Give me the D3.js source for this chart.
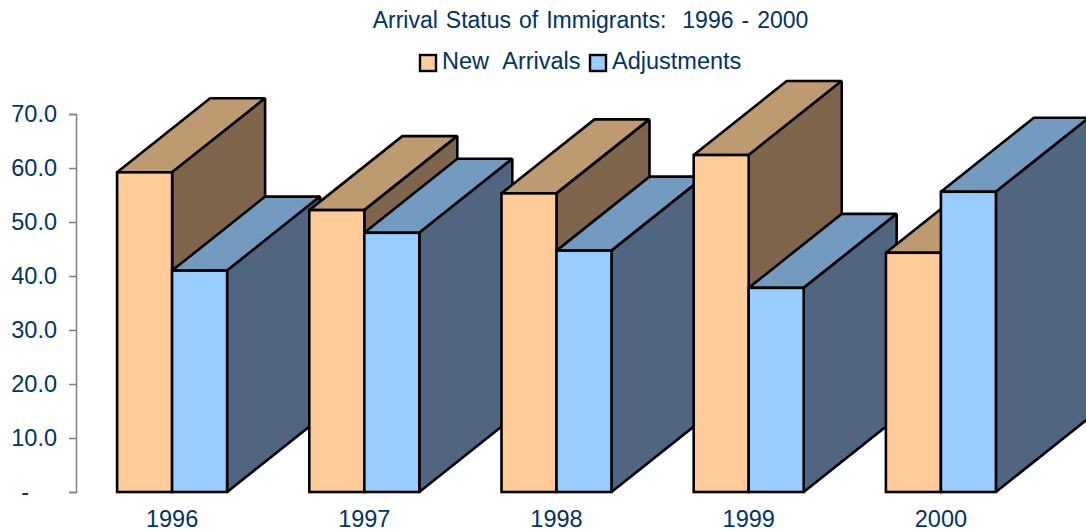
<!DOCTYPE html>
<html>
<head>
<meta charset="utf-8">
<script src="https://d3js.org/d3.v7.min.js"></script>
<style>
    html, body { margin: 0; padding: 0; background: #fff; overflow: hidden; }
    svg { display: block; }
    text { font-family: "Liberation Sans", Arial, sans-serif; fill: #003366; }
    .y-axis path, .y-axis line { stroke: #808080; stroke-width: 1.5; }
    .x-axis path, .x-axis line { display: none; }
    .face { stroke: #000; stroke-width: 2.6; stroke-linejoin: miter; stroke-miterlimit: 1.5; }
</style>
</head>
<body>
<div id="chart"></div>
<script>
var years = ["1996", "1997", "1998", "1999", "2000"];
var newArrivals = [59.2, 52.2, 55.3, 62.4, 44.3];
var adjustments = [41.0, 48.0, 44.7, 37.8, 55.6];
var seriesNames = ["New Arrivals", "Adjustments"];
var yTicks = [0, 10, 20, 30, 40, 50, 60, 70];
var chartTitle = "Arrival Status of Immigrants:  1996 - 2000";

var width = 1086, height = 531;
var margin = { top: 114, left: 76, bottom: 39, right: 49 };
var depthX = 93, depthY = 74;
var barWidth = 55;

var colors = {
    "New Arrivals": { front: "#FFCC99", top: "#BD9A6F", side: "#7F654B" },
    "Adjustments": { front: "#99CCFF", top: "#739ABF", side: "#4F6580" }
};

var svg = d3.select("#chart").append("svg")
    .attr("width", width)
    .attr("height", height);

// Scales and axes
var x = d3.scaleBand()
    .domain(years)
    .range([margin.left, width - margin.right]);

var y = d3.scaleLinear()
    .domain([0, 70])
    .range([height - margin.bottom, margin.top]);

svg.append("g")
    .attr("class", "y-axis")
    .attr("transform", "translate(" + margin.left + ",0)")
    .call(d3.axisLeft(y)
        .tickValues(yTicks)
        .tickSize(7)
        .tickSizeOuter(7)
        .tickPadding(12)
        .tickFormat(function(d) { return d === 0 ? "-" : d3.format(".1f")(d); }))
    .call(function(g) {
        g.selectAll("text").attr("font-size", 23.5).attr("font-family", null).attr("dy", "0.3em");
        // the zero label is a dash sitting mid-column, like an accounting format
        g.selectAll("text").filter(function(d) { return d === 0; }).attr("dx", -28);
    });

svg.append("g")
    .attr("class", "x-axis")
    .attr("transform", "translate(0," + (height - margin.bottom) + ")")
    .call(d3.axisBottom(x).tickSize(0).tickPadding(18))
    .call(function(g) { g.selectAll("text").attr("font-size", 23.5).attr("font-family", null); });

// Flatten to one row per bar, left to right so nearer bars paint over
var bars = [];
years.forEach(function(year, i) {
    bars.push({ year: year, name: seriesNames[0], value: newArrivals[i], x0: x(year) + x.bandwidth() / 2 - barWidth });
    bars.push({ year: year, name: seriesNames[1], value: adjustments[i], x0: x(year) + x.bandwidth() / 2 });
});

var bar = svg.selectAll(".bar")
    .data(bars)
    .enter().append("g")
    .attr("class", "bar");

function poly(points) {
    return points.map(function(p) { return p.join(","); }).join(" ");
}

// Top face
bar.append("polygon")
    .attr("class", "face")
    .attr("fill", function(d) { return colors[d.name].top; })
    .attr("points", function(d) {
        var t = y(d.value);
        return poly([[d.x0, t], [d.x0 + depthX, t - depthY], [d.x0 + barWidth + depthX, t - depthY], [d.x0 + barWidth, t]]);
    });

// Side face
bar.append("polygon")
    .attr("class", "face")
    .attr("fill", function(d) { return colors[d.name].side; })
    .attr("points", function(d) {
        var t = y(d.value), b = y(0), r = d.x0 + barWidth;
        return poly([[r, t], [r + depthX, t - depthY], [r + depthX, b - depthY], [r, b]]);
    });

// Front face
bar.append("rect")
    .attr("class", "face")
    .attr("fill", function(d) { return colors[d.name].front; })
    .attr("x", function(d) { return d.x0; })
    .attr("y", function(d) { return y(d.value); })
    .attr("width", barWidth)
    .attr("height", function(d) { return y(0) - y(d.value); });

// Title
svg.append("text")
    .attr("x", 590.5)
    .attr("y", 28)
    .attr("text-anchor", "middle")
    .attr("font-size", 23)
    .style("white-space", "pre")
    .style("word-spacing", "1.6px")
    .text(chartTitle);

// Legend
var legendItems = [
    { name: seriesNames[0], box: 420, label: 442 },
    { name: seriesNames[1], box: 590, label: 612 }
];

var legend = svg.selectAll(".legend")
    .data(legendItems)
    .enter().append("g")
    .attr("class", "legend");

legend.append("rect")
    .attr("x", function(d) { return d.box; })
    .attr("y", 55)
    .attr("width", 16)
    .attr("height", 16)
    .attr("fill", function(d) { return colors[d.name].front; })
    .attr("stroke", "#000")
    .attr("stroke-width", 2.4);

legend.append("text")
    .attr("x", function(d) { return d.label; })
    .attr("y", 69)
    .attr("font-size", 23.5)
    .style("word-spacing", "8px")
    .text(function(d) { return d.name; });
</script>
</body>
</html>
